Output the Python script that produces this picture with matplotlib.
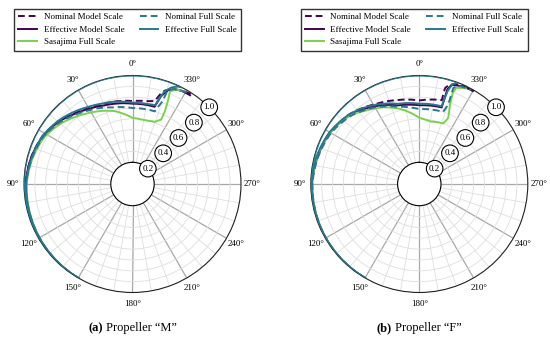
import numpy as np
import matplotlib
matplotlib.use("Agg")
import matplotlib.pyplot as plt

plt.rcParams['font.family'] = ['Liberation Serif', 'DejaVu Serif']

# ---- data: (angle in degrees, relative radius) ----
# Propeller "M"
m_nom_model_th = [150, 120, 90, 75, 62, 50, 40, 30, 20, 14, 0, -10, -15, -17, -19, -23, -27, -33]
m_nom_model_r = [1.0, 0.995, 0.985, 0.965, 0.94, 0.895, 0.85, 0.81, 0.785, 0.78, 0.765, 0.775, 0.79, 0.86, 0.91, 0.95, 0.97, 0.99]
m_eff_model_th = [150, 120, 90, 75, 62, 50, 40, 30, 20, 14, 0, -10, -16, -18, -21, -25, -28, -33]
m_eff_model_r = [1.0, 0.995, 0.985, 0.965, 0.935, 0.89, 0.84, 0.80, 0.77, 0.76, 0.74, 0.74, 0.74, 0.85, 0.93, 0.96, 0.97, 0.975]
m_nom_full_th = [150, 120, 90, 75, 62, 50, 40, 31, 20, 15, 0, -10, -17, -20, -20.5, -23, -27, -32]
m_nom_full_r = [1.0, 0.99, 0.98, 0.955, 0.93, 0.88, 0.83, 0.79, 0.75, 0.73, 0.70, 0.70, 0.70, 0.81, 0.91, 0.95, 0.97, 0.985]
m_eff_full_th = [150, 120, 90, 75, 62, 50, 40, 30, 20, 14, 0, -10, -16, -19, -22, -25, -27, 150]
m_eff_full_r = [1.0, 0.99, 0.98, 0.96, 0.94, 0.90, 0.86, 0.82, 0.79, 0.78, 0.75, 0.75, 0.755, 0.90, 0.96, 0.99, 1.0, 1.0]
m_sas_th = [150, 120, 90, 75, 62, 50, 40, 32, 25, 18, 13.5, 8.6, 0, -8, -14, -20, -24, -24, -23, -22, -25, -29]
m_sas_r = [1.0, 0.99, 0.975, 0.95, 0.92, 0.865, 0.81, 0.77, 0.74, 0.71, 0.69, 0.66, 0.61, 0.60, 0.60, 0.61, 0.65, 0.73, 0.84, 0.92, 0.96, 0.975]

# Propeller "F"
f_nom_model_th = [150, 120, 90, 75, 60, 45, 30, 15, 0, -15, -15, -17, -22, -30]
f_nom_model_r = [1.0, 0.997, 0.99, 0.975, 0.95, 0.91, 0.845, 0.80, 0.77, 0.80, 0.915, 0.96, 0.985, 0.99]
f_eff_model_th = [150, 120, 90, 75, 60, 45, 30.6, 15, 0, -16.3, -16.5, -18, -24, -30]
f_eff_model_r = [1.0, 0.995, 0.99, 0.97, 0.95, 0.90, 0.83, 0.75, 0.725, 0.735, 0.91, 0.96, 0.985, 0.99]
f_nom_full_th = [150, 120, 90, 75, 60, 45, 31, 16, 0, -18.3, -20, -19.5, -22, -29]
f_nom_full_r = [1.0, 0.995, 0.985, 0.965, 0.94, 0.89, 0.82, 0.74, 0.69, 0.70, 0.78, 0.94, 0.975, 0.99]
f_eff_full_th = [150, 120, 90, 75, 60, 45, 30, 15, 0, -16, -17, -18.5, -21, 150]
f_eff_full_r = [1.0, 0.995, 0.99, 0.98, 0.955, 0.91, 0.84, 0.765, 0.74, 0.745, 0.90, 0.97, 1.0, 1.0]
f_sas_th = [150, 120, 90, 75, 60, 45, 37.6, 25, 14.4, 0, -9.7, -21.5, -23.7, -21.2, -20.2, -21, -26]
f_sas_r = [1.0, 0.995, 0.985, 0.975, 0.95, 0.90, 0.845, 0.78, 0.715, 0.61, 0.585, 0.60, 0.66, 0.78, 0.89, 0.95, 0.98]

rings = [0.2, 0.4, 0.6, 0.8, 1.0]

purple = '#440154'
teal = '#2a788e'
green = '#7ad151'

panels = [
    ("(a)", "Propeller \u201cM\u201d",
     [(m_nom_model_th, m_nom_model_r), (m_eff_model_th, m_eff_model_r), (m_sas_th, m_sas_r),
      (m_nom_full_th, m_nom_full_r), (m_eff_full_th, m_eff_full_r)]),
    ("(b)", "Propeller \u201cF\u201d",
     [(f_nom_model_th, f_nom_model_r), (f_eff_model_th, f_eff_model_r), (f_sas_th, f_sas_r),
      (f_nom_full_th, f_nom_full_r), (f_eff_full_th, f_eff_full_r)]),
]
labels = ["Nominal Model Scale", "Effective Model Scale", "Sasajima Full Scale",
          "Nominal Full Scale", "Effective Full Scale"]
styles = [dict(color=purple, ls=(0, (3.5, 2))), dict(color=purple, ls='-'), dict(color=green, ls='-'),
          dict(color=teal, ls=(0, (3.5, 2))), dict(color=teal, ls='-')]

fig = plt.figure(figsize=(5.5, 3.4), dpi=100)

centers = [132.5, 419.3]
legend_x = [127.4, 414.2]
caption_split = [103, 392]
R = 108.5
cy = 184

for i, (tag, name, series) in enumerate(panels):
    ax = fig.add_axes([(centers[i] - R) / 550, (340 - cy - R) / 340, 2 * R / 550, 2 * R / 340],
                      projection='polar')
    ax.set_theta_zero_location('N')
    ax.set_theta_direction(1)
    ax.set_rlim(0.2, 1.0)
    ax.set_rorigin(0)

    ax.set_xticks(np.deg2rad(np.arange(0, 360, 30)))
    ax.set_xticklabels([f"{d}\u00b0" for d in range(0, 360, 30)], fontsize=6.5)
    ax.set_xticks(np.deg2rad(np.arange(0, 360, 10)), minor=True)
    ax.set_yticks(np.arange(0.2, 1.01, 0.1))
    ax.set_yticklabels([])
    ax.tick_params(axis='x', which='both', length=0, pad=1)
    ax.tick_params(axis='y', length=0)
    ax.grid(which='major', axis='x', color='#a8a8a8', lw=0.9)
    ax.grid(which='minor', axis='x', color='#dedede', lw=0.6)
    ax.grid(which='major', axis='y', color='#dedede', lw=0.6)
    ax.spines['polar'].set_color('#222222')
    ax.spines['polar'].set_linewidth(0.8)
    ax.spines['inner'].set_visible(False)

    handles = []
    for (th, r), st, lab in zip(series, styles, labels):
        h, = ax.plot(np.deg2rad(th), r, lw=1.4, label=lab, **st)
        # let the polar transform bend segments into curves
        h.get_path()._interpolation_steps = 60
        handles.append(h)
    handles[-1].set_zorder(3)

    for rv in rings:
        ax.text(np.deg2rad(315), rv, f"{rv:.1f}", fontsize=6.5, ha='center', va='center', zorder=5,
                bbox=dict(boxstyle='circle,pad=0.3', fc='white', ec='black', lw=0.8))

    fig.legend(handles=handles, loc='upper center', ncol=2, fontsize=6.5,
               bbox_to_anchor=(legend_x[i] / 550, 1 - 4 / 340), frameon=True, fancybox=False,
               edgecolor='#333333', framealpha=1, handlelength=2.1, columnspacing=1.7,
               labelspacing=0.45, borderpad=0.5, handletextpad=0.7)

    fig.text(caption_split[i] / 550, 1 - 328 / 340, tag, fontsize=9, fontweight='bold',
             ha='right', va='center')
    fig.text(caption_split[i] / 550, 1 - 328 / 340, " " + name, fontsize=9, ha='left', va='center')

fig.savefig("out.png", dpi=100)
